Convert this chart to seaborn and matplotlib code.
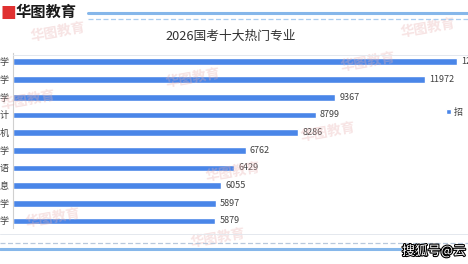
import pandas as pd
import matplotlib.pyplot as plt
import matplotlib.patheffects as pe
import seaborn as sns

# 数据（左侧专业名称在原图中被裁切，只剩末字）
ranks = ["1", "2", "3", "4", "5", "6", "7", "8", "9", "10"]
majors = ["学", "学", "学", "计", "机", "学", "语", "息", "学", "学"]
counts = [12900, 11972, 9367, 8799, 8286, 6762, 6429, 6055, 5897, 5879]
legend_label = "招"
title = "2026国考十大热门专业"

sns.set_theme(style="white")
plt.rcParams['font.family'] = ['Noto Sans CJK SC', 'DejaVu Sans']

df = pd.DataFrame({"rank": ranks, "count": counts})

fig = plt.figure(figsize=(4.68, 2.64), dpi=100)
fig.patch.set_facecolor("white")
ax = fig.add_axes([13 / 468, 1 - 228 / 264, 1 - 13 / 468, (228 - 53) / 264])

# 水印（放在底层）
for (x, y) in [(30, 32), (165, 78), (300, 132), (205, 172), (0, 100), (25, 218),
               (190, 238), (400, 28), (340, 62)]:
    fig.text(x / 468, 1 - y / 264, "华图教育", fontsize=10, color="#e8b0b0",
             alpha=0.35, rotation=10, ha="left", va="center", fontweight="bold",
             zorder=0)

sns.barplot(data=df, x="count", y="rank", orient="h", color="#4a86e8",
            width=0.38, saturation=1, label=legend_label, ax=ax)
ax.bar_label(ax.containers[0], labels=[str(v) for v in counts], padding=3,
             fontsize=6.5, color="#404040")
ax.patch.set_alpha(0)

ax.set_xlim(0, 13220)
ax.set_ylim(9.4, -0.5)
ax.set_yticks(range(len(majors)))
ax.set_yticklabels(majors, fontsize=6.5, color="#404040")
ax.tick_params(axis="y", length=0, pad=3)
ax.set_xticks([])
ax.set_xlabel("")
ax.set_ylabel("")
for s in ["top", "bottom", "right"]:
    ax.spines[s].set_visible(False)
ax.spines["left"].set_color("#d0d0d0")
ax.spines["left"].set_linewidth(0.8)

leg = ax.legend(loc="center left", bbox_to_anchor=(0.952, 0.66), frameon=False,
                fontsize=6.5, handlelength=0.5, handleheight=0.5, handletextpad=0.3,
                borderaxespad=0, borderpad=0)
for t in leg.get_texts():
    t.set_color("#404040")

# 标题
fig.text(231 / 468, 1 - 36 / 264, title, ha="center", va="center",
         fontsize=9.2, color="#333333")

# 绘图区浅色边线
fig.add_artist(plt.Line2D([13 / 468, 1], [1 - 55 / 264] * 2, color="#e4e8ee", lw=0.7))
fig.add_artist(plt.Line2D([0, 1], [1 - 234 / 264] * 2, color="#e4e8ee", lw=0.7))

# 顶部与底部装饰线
fig.add_artist(plt.Line2D([88 / 468, 1], [1 - 13 / 264] * 2, color="#86b7ea", lw=2.2))
fig.add_artist(plt.Line2D([88 / 468, 1], [1 - 19 / 264] * 2, color="#a9cdf0",
                          lw=0.9, ls=(0, (4, 2))))
fig.add_artist(plt.Line2D([0, 1], [1 - 243 / 264] * 2, color="#b8c8dc",
                          lw=0.9, ls=(0, (4, 2))))
fig.add_artist(plt.Line2D([0, 400 / 468], [1 - 249 / 264] * 2, color="#86b7ea", lw=2.2))

# 左上角标志
fig.text(1 / 468, 1 - 12 / 264, "■", fontsize=12, color="#e03030", ha="left", va="center",
         family=['DejaVu Sans'])
fig.text(16 / 468, 1 - 12 / 264, "华图教育", fontsize=11, fontweight="bold",
         color="#1a1a1a", ha="left", va="center")

# 右下角来源
src = fig.text(402 / 468, 1 - 251 / 264, "搜狐号@云", fontsize=9.3, color="white",
               ha="left", va="center")
src.set_path_effects([pe.withStroke(linewidth=1.6, foreground="black")])

fig.savefig("out.png", dpi=100)
